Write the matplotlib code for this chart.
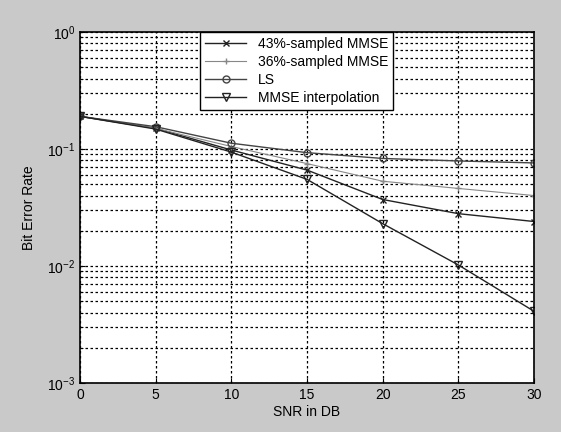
import matplotlib
matplotlib.use("Agg")
import matplotlib.pyplot as plt
import numpy as np

plt.rcParams["font.family"] = ["Liberation Sans", "DejaVu Sans"]

snr_db = [0, 5, 10, 15, 20, 25, 30]
ber_43 = [0.19, 0.15, 0.098, 0.066, 0.037, 0.028, 0.024]
ber_36 = [0.19, 0.15, 0.105, 0.075, 0.053, 0.046, 0.040]
ber_ls = [0.19, 0.155, 0.112, 0.093, 0.083, 0.079, 0.076]
ber_mmse = [0.19, 0.148, 0.094, 0.055, 0.023, 0.0102, 0.0041]

fig = plt.figure(figsize=(5.61, 4.32), dpi=100)
fig.patch.set_facecolor("#c9c9c9")
ax = fig.add_axes([0.1426, 0.1134, 0.8094, 0.8126])
ax.set_facecolor("white")

ax.semilogy(snr_db, ber_43, color="#222222", lw=1.0, marker="x", ms=4, label="43%-sampled MMSE")
ax.semilogy(snr_db, ber_36, color="#888888", lw=0.8, marker="+", ms=5, label="36%-sampled MMSE")
ax.semilogy(snr_db, ber_ls, color="#444444", lw=1.0, marker="o", ms=5, mfc="none", label="LS")
ax.semilogy(snr_db, ber_mmse, color="#222222", lw=1.0, marker="v", ms=6, mfc="none", label="MMSE interpolation")

ax.set_xlim(0, 30)
ax.set_ylim(1e-3, 1)
ax.set_xticks([0, 5, 10, 15, 20, 25, 30])
ax.grid(True, which="major", color="black", linestyle=(0, (2, 2)), lw=0.9)
ax.grid(True, which="minor", axis="y", color="black", linestyle=(0, (2, 2)), lw=0.9)
for s in ax.spines.values():
    s.set_linewidth(1.2)
ax.tick_params(labelsize=10, direction="in", which="both")
ax.set_xlabel("SNR in DB", fontsize=10, labelpad=2)
ax.set_ylabel("Bit Error Rate", fontsize=10, labelpad=8)

leg = ax.legend(loc="upper left", bbox_to_anchor=(0.264, 1.0), borderaxespad=0,
                fontsize=10, frameon=True, fancybox=False, edgecolor="black",
                handlelength=3, borderpad=0.35, labelspacing=0.3)
leg.get_frame().set_linewidth(1.0)
leg.get_frame().set_alpha(1.0)

fig.savefig("out.png", dpi=100, facecolor=fig.get_facecolor())
